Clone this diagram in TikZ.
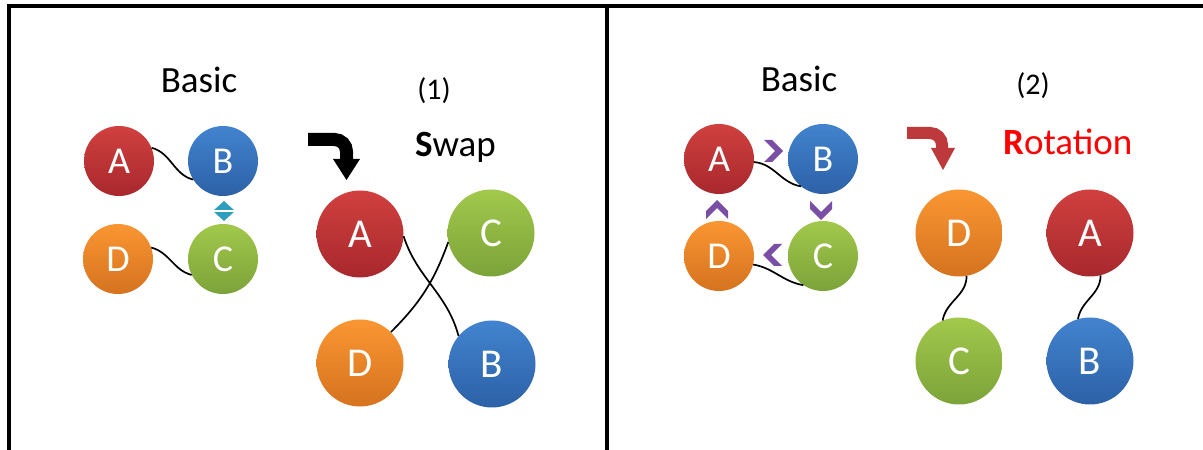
\documentclass[tikz,border=0pt]{standalone}
\usepackage{fontspec}
\setmainfont{Carlito}
\definecolor{redT}{HTML}{D0403F}
\definecolor{redB}{HTML}{A8282D}
\definecolor{bluT}{HTML}{4283CF}
\definecolor{bluB}{HTML}{2C61A6}
\definecolor{grnT}{HTML}{A2C84B}
\definecolor{grnB}{HTML}{7BA339}
\definecolor{orgT}{HTML}{FA9632}
\definecolor{orgB}{HTML}{D5731F}
\definecolor{tealC}{HTML}{2F9DBE}
\definecolor{purC}{HTML}{7B4EA6}
\definecolor{arrRed}{HTML}{BE393B}
\begin{document}
\begin{tikzpicture}[x=1pt,y=1pt]
\tikzset{
  ball/.style={circle, inner sep=0pt, text=white, draw=none},
  smallball/.style={ball, minimum size=70pt, font=\fontsize{38}{38}\selectfont},
  bigball/.style={ball, minimum size=87pt, font=\fontsize{41}{41}\selectfont},
  redball/.style={top color=redT, bottom color=redB},
  bluball/.style={top color=bluT, bottom color=bluB},
  grnball/.style={top color=grnT, bottom color=grnB},
  orgball/.style={top color=orgT, bottom color=orgB},
  link/.style={line width=1.7pt, black},
  frameline/.style={line width=4pt, black},
  title/.style={inner sep=0pt, font=\fontsize{37}{37}\selectfont},
  numlabel/.style={inner sep=0pt, font=\fontsize{30}{30}\selectfont},
  chevron/.pic={\fill[purC] (-9,11) -- (-1,11) -- (10,0) -- (-1,-11) -- (-9,-11) -- (2,0) -- cycle;}
}
\useasboundingbox (0,0) rectangle (1203,450);

% frame
\draw[frameline] (8.5,0) -- (8.5,444) -- (1203,444);
\draw[frameline] (607,444) -- (607,0);

% ---------- left: Basic ----------
\node[title, anchor=base] (t1) at (199,357) {Basic};
\node[smallball, redball] (lA) at (119,289) {A};
\node[smallball, bluball] (lB) at (223,289) {B};
\node[smallball, orgball] (lD) at (118,191) {D};
\node[smallball, grnball] (lC) at (223,191) {C};
\draw[link] (lA.22) to[out=-15, in=165] (lB.212);
\draw[link] (lD.19) to[out=-15, in=165] (lC.207);
\fill[tealC] (213,239) -- (224,249) -- (235,239) -- (224,229) -- cycle;
\draw[white, line width=2.5pt] (211,239) -- (237,239);

% ---------- left: Swap ----------
\node[numlabel] (n1) at (434,359) {(1)};
\node[title, anchor=base west] (t2) at (415,293) {\textbf{S}wap};
\draw[line width=13pt, rounded corners=12pt] (308,310.5) -| (346.5,290);
\fill (333,291) -- (360,291) -- (346.5,270) -- cycle;
\node[bigball, redball] (sA) at (360,216) {A};
\node[bigball, grnball] (sC) at (491,217) {C};
\node[bigball, orgball] (sD) at (360,87) {D};
\node[bigball, bluball] (sB) at (492,86) {B};
\draw[link] (sA.-3) to[out=-72, in=105] (sB.140);
\draw[link] (sC.192) to[out=250, in=45] (sD.45);

% ---------- right: Basic ----------
\node[title, anchor=base] (t3) at (799,358) {Basic};
\node[smallball, redball] (rA) at (719,291) {A};
\node[smallball, bluball] (rB) at (823,291) {B};
\node[smallball, orgball] (rD) at (719,194) {D};
\node[smallball, grnball] (rC) at (823,194) {C};
\draw[link] (rA.-5) to[out=-5, in=170] (rB.231);
\draw[link] (rD.-14) to[out=-10, in=170] (rC.236);
\pic at (773,299) {chevron};
\pic[rotate=-90] at (821,240) {chevron};
\pic[rotate=180] at (773,195) {chevron};
\pic[rotate=90] at (717,240) {chevron};

% ---------- right: Rotation ----------
\node[numlabel] (n2) at (1033,364) {(2)};
\node[title, anchor=base west, text=red] (t4) at (1003,295) {\textbf{R}otation};
\draw[arrRed, line width=12pt, rounded corners=12pt] (907,317) -| (942,301);
\fill[arrRed] (931,302) -- (955,302) -- (943,280) -- cycle;
\node[bigball, orgball] (qD) at (959,217) {D};
\node[bigball, redball] (qA) at (1090,217) {A};
\node[bigball, grnball] (qC) at (959,89) {C};
\node[bigball, bluball] (qB) at (1090,89) {B};
\draw[link] (qD.-80) to[out=-90, in=80] (qC.112);
\draw[link] (qA.-76) to[out=-90, in=80] (qB.106);
\end{tikzpicture}
\end{document}
